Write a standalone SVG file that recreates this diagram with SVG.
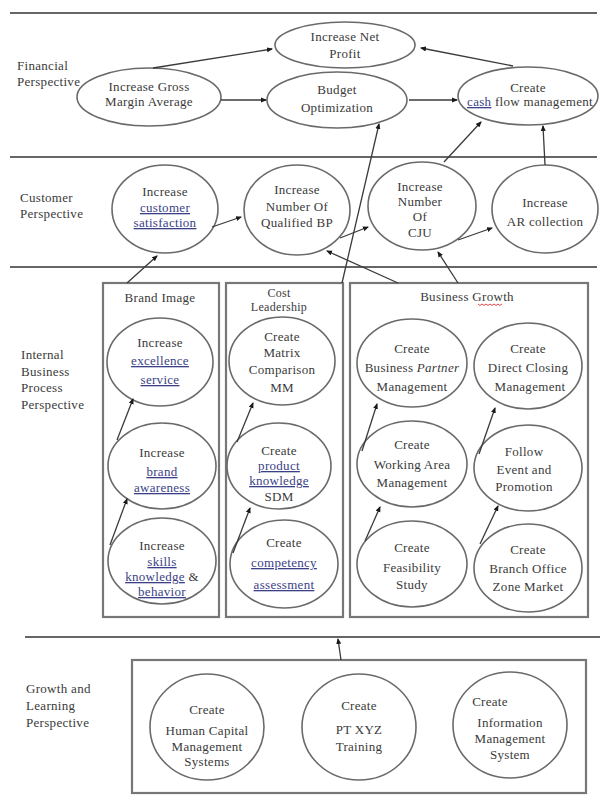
<svg xmlns="http://www.w3.org/2000/svg" width="600" height="802" viewBox="0 0 600 802">
<defs>
<marker id="ah" markerWidth="6" markerHeight="6" refX="5" refY="3" orient="auto" markerUnits="userSpaceOnUse">
<path d="M0,0.5 L6,3 L0,5.5 z" fill="#1a1a1a"/>
</marker>
<style>
text{font-family:"Liberation Serif","Times New Roman",serif;font-size:13px;letter-spacing:0.3px;fill:#3a3a3a;text-anchor:middle}
text.l{text-anchor:start}
text.s{font-size:12px}
.u{fill:#3b3f86;text-decoration:underline}
ellipse{fill:#fff;stroke:#6a6a6a;stroke-width:1.6}
.sep{stroke:#666;stroke-width:2.2}
.box{fill:none;stroke:#777;stroke-width:2.2}
#connectors line{stroke:#3a3a3a;stroke-width:1.3;marker-end:url(#ah)}
</style>
</defs>
<rect width="600" height="802" fill="#fff"/>

<g id="separators">
<line class="sep" x1="10" y1="13" x2="597" y2="13"/>
<line class="sep" x1="10" y1="157" x2="597" y2="157"/>
<line class="sep" x1="10" y1="267" x2="597" y2="267"/>
<line class="sep" x1="25" y1="637" x2="600" y2="637"/>
</g>

<g id="perspective-labels">
<text class="l" x="17" y="70">Financial</text>
<text class="l" x="17" y="86">Perspective</text>
<text class="l" x="20" y="202">Customer</text>
<text class="l" x="20" y="218">Perspective</text>
<text class="l" x="21" y="359">Internal</text>
<text class="l" x="21" y="376">Business</text>
<text class="l" x="21" y="392">Process</text>
<text class="l" x="21" y="409">Perspective</text>
<text class="l" x="26" y="693">Growth and</text>
<text class="l" x="26" y="710">Learning</text>
<text class="l" x="26" y="727">Perspective</text>
</g>

<g id="groups">
<rect class="box" x="103" y="283" width="116" height="334"/>
<rect class="box" x="226" y="283" width="117" height="334"/>
<rect class="box" x="350" y="283" width="238" height="334"/>
<rect class="box" x="132" y="660" width="454" height="133"/>
<text x="160" y="302">Brand Image</text>
<text class="s" x="279" y="297">Cost</text>
<text class="s" x="279" y="311">Leadership</text>
<text x="467" y="301">Business Growth</text>
<path d="M478,304 l2,1.5 l2,-1.5 l2,1.5 l2,-1.5 l2,1.5 l2,-1.5 l2,1.5 l2,-1.5 l2,1.5 l2,-1.5 l2,1.5 l2,-1.5" fill="none" stroke="#d33" stroke-width="0.9"/>
</g>

<g id="n-netprofit"><ellipse cx="345" cy="45" rx="70" ry="23"/><text x="345" y="41">Increase Net</text><text x="345" y="58">Profit</text></g>
<g id="n-grossmargin"><ellipse cx="149" cy="97" rx="72" ry="29"/><text x="149" y="91">Increase Gross</text><text x="149" y="106">Margin Average</text></g>
<g id="n-budget"><ellipse cx="337" cy="100" rx="70" ry="28"/><text x="337" y="94">Budget</text><text x="337" y="112">Optimization</text></g>
<g id="n-cashflow"><ellipse cx="528" cy="96" rx="70" ry="29"/><text x="528" y="92">Create</text><text x="530" y="106"><tspan class="u">cash</tspan> flow management</text></g>

<g id="n-satisfaction"><ellipse cx="165" cy="209" rx="53" ry="44"/><text x="165" y="196">Increase</text><text x="165" y="212"><tspan class="u">customer</tspan></text><text x="165" y="227"><tspan class="u">satisfaction</tspan></text></g>
<g id="n-qualifiedbp"><ellipse cx="297" cy="210" rx="53" ry="45"/><text x="297" y="194">Increase</text><text x="297" y="211">Number Of</text><text x="297" y="227">Qualified BP</text></g>
<g id="n-cju"><ellipse cx="422" cy="206" rx="54" ry="44"/><text x="420" y="191">Increase</text><text x="420" y="206">Number</text><text x="420" y="221">Of</text><text x="420" y="237">CJU</text></g>
<g id="n-arcollection"><ellipse cx="545" cy="209" rx="53" ry="44"/><text x="545" y="207">Increase</text><text x="545" y="226">AR collection</text></g>

<g id="n-excellence"><ellipse cx="160" cy="362" rx="53" ry="44"/><text x="160" y="347">Increase</text><text x="160" y="365"><tspan class="u">excellence</tspan></text><text x="160" y="384"><tspan class="u">service</tspan></text></g>
<g id="n-brandawareness"><ellipse cx="162" cy="466" rx="54" ry="43"/><text x="162" y="457">Increase</text><text x="162" y="476"><tspan class="u">brand</tspan></text><text x="162" y="492"><tspan class="u">awareness</tspan></text></g>
<g id="n-skills"><ellipse cx="162" cy="561" rx="54" ry="43"/><text x="162" y="550">Increase</text><text x="162" y="566"><tspan class="u">skills</tspan></text><text x="162" y="581"><tspan class="u">knowledge</tspan> &amp;</text><text x="162" y="596"><tspan class="u">behavior</tspan></text></g>

<g id="n-matrix"><ellipse cx="282" cy="361" rx="53" ry="44"/><text x="282" y="341">Create</text><text x="282" y="357">Matrix</text><text x="282" y="374">Comparison</text><text x="282" y="392">MM</text></g>
<g id="n-productknowledge"><ellipse cx="279" cy="466" rx="52" ry="43"/><text x="279" y="455">Create</text><text x="279" y="470"><tspan class="u">product</tspan></text><text x="279" y="485"><tspan class="u">knowledge</tspan></text><text x="279" y="501">SDM</text></g>
<g id="n-competency"><ellipse cx="284" cy="564" rx="54" ry="44"/><text x="284" y="547">Create</text><text x="284" y="567"><tspan class="u">competency</tspan></text><text x="284" y="589"><tspan class="u">assessment</tspan></text></g>

<g id="n-partner"><ellipse cx="412" cy="363" rx="55" ry="44"/><text x="412" y="353">Create</text><text x="412" y="372">Business <tspan font-style="italic">Partner</tspan></text><text x="412" y="391">Management</text></g>
<g id="n-directclosing"><ellipse cx="528" cy="366" rx="54" ry="43"/><text x="528" y="353">Create</text><text x="528" y="372">Direct Closing</text><text x="530" y="391">Management</text></g>
<g id="n-workingarea"><ellipse cx="412" cy="464" rx="55" ry="43"/><text x="412" y="449">Create</text><text x="412" y="469">Working Area</text><text x="412" y="487">Management</text></g>
<g id="n-event"><ellipse cx="528" cy="468" rx="54" ry="43"/><text x="524" y="456">Follow</text><text x="524" y="474">Event and</text><text x="524" y="491">Promotion</text></g>
<g id="n-feasibility"><ellipse cx="412" cy="564" rx="55" ry="43"/><text x="412" y="552">Create</text><text x="412" y="572">Feasibility</text><text x="412" y="589">Study</text></g>
<g id="n-branchoffice"><ellipse cx="528" cy="568" rx="54" ry="44"/><text x="528" y="554">Create</text><text x="528" y="573">Branch Office</text><text x="528" y="591">Zone Market</text></g>

<g id="n-hcms"><ellipse cx="207" cy="727" rx="57" ry="53"/><text x="207" y="714">Create</text><text x="207" y="735">Human Capital</text><text x="207" y="751">Management</text><text x="207" y="766">Systems</text></g>
<g id="n-training"><ellipse cx="359" cy="727" rx="57" ry="53"/><text x="359" y="710">Create</text><text x="359" y="734">PT XYZ</text><text x="359" y="751">Training</text></g>
<g id="n-ims"><ellipse cx="510" cy="725" rx="57" ry="53"/><text x="490" y="706">Create</text><text x="510" y="727">Information</text><text x="510" y="743">Management</text><text x="510" y="759">System</text></g>

<g id="connectors">
<line x1="153" y1="68" x2="272" y2="49"/>
<line x1="513" y1="66" x2="421" y2="48"/>
<line x1="221" y1="100" x2="266" y2="100"/>
<line x1="409" y1="100" x2="457" y2="100"/>
<line x1="342" y1="283" x2="379" y2="124"/>
<line x1="444" y1="162" x2="481" y2="122"/>
<line x1="545" y1="165" x2="543" y2="126"/>
<line x1="212" y1="227" x2="241" y2="217"/>
<line x1="340" y1="238" x2="368" y2="227"/>
<line x1="458" y1="240" x2="492" y2="228"/>
<line x1="127" y1="283" x2="157" y2="256"/>
<line x1="398" y1="283" x2="327" y2="251"/>
<line x1="458" y1="283" x2="438" y2="252"/>
<line x1="110" y1="545" x2="127" y2="499"/>
<line x1="117" y1="440" x2="133" y2="399"/>
<line x1="233" y1="553" x2="250" y2="508"/>
<line x1="237" y1="442" x2="253" y2="403"/>
<line x1="365" y1="541" x2="380" y2="507"/>
<line x1="362" y1="451" x2="377" y2="404"/>
<line x1="480" y1="544" x2="498" y2="506"/>
<line x1="479" y1="454" x2="495" y2="408"/>
<line x1="341" y1="660" x2="338" y2="639"/>
</g>
</svg>
